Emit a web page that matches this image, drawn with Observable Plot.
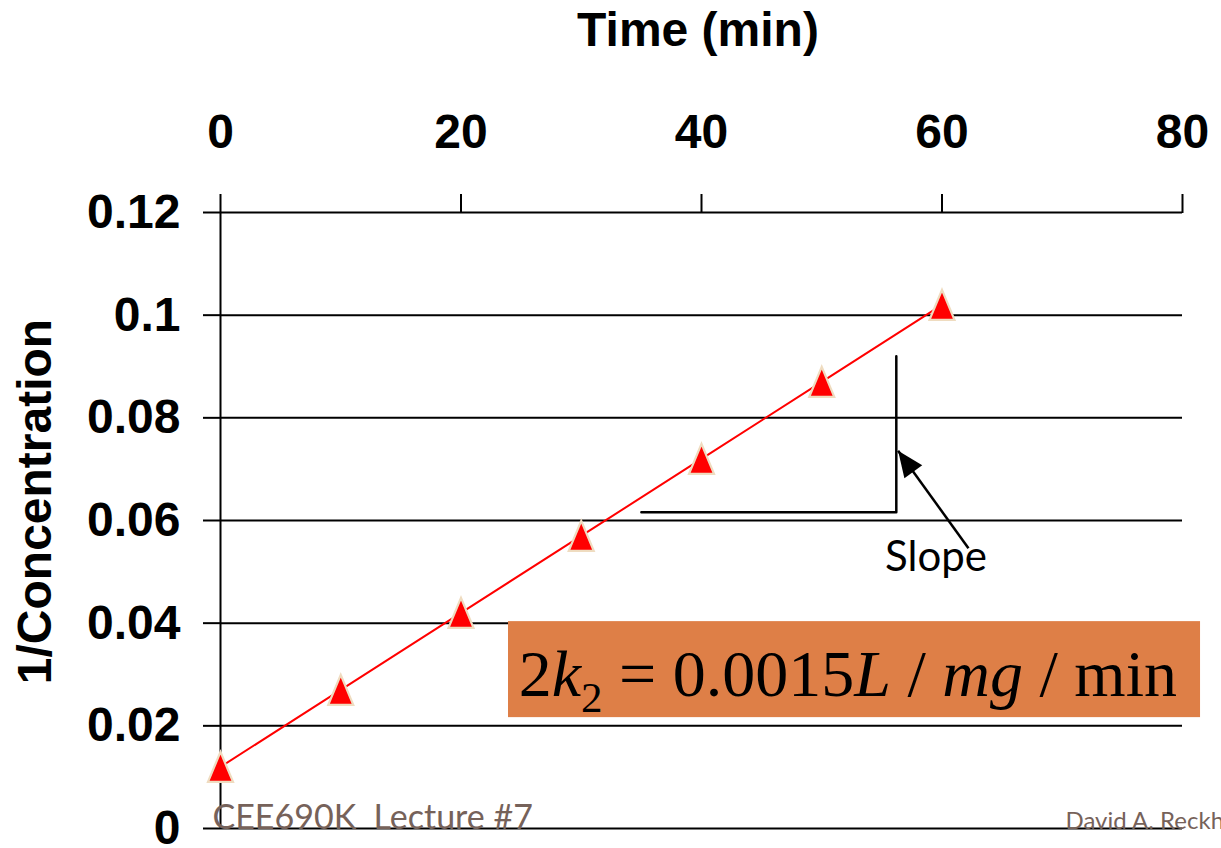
<!DOCTYPE html>
<html><head><meta charset="utf-8">
<script src="https://cdn.jsdelivr.net/npm/d3@7"></script>
<script src="https://cdn.jsdelivr.net/npm/@observablehq/plot@0.6"></script>
<style>
html,body{margin:0;padding:0;background:#fff;overflow:hidden;}
</style></head><body><div id="chart"></div>
<script>
// ---- data ----
const times = [0, 10, 20, 30, 40, 50, 60];
const invConc = [0.012, 0.027, 0.042, 0.057, 0.072, 0.087, 0.102];
const xTicks = [0, 20, 40, 60, 80];
const yTicks = [0, 0.02, 0.04, 0.06, 0.08, 0.1, 0.12];
const xTitle = "Time (min)";
const yTitle = "1/Concentration";
// slope annotation (data units)
const slopeLegX = [35, 56.2, 56.2];
const slopeLegY = [0.0616, 0.0616, 0.092];
const arrowFrom = [62.2, 0.0546];
const arrowTo = [56.35, 0.0736];
const slopeLabel = "Slope";
const slopeLabelAt = [59.5, 0.0528];
// equation box
const eqParts = [
  {t: "2"}, {t: "k", i: true}, {t: "2", sub: true}, {t: " = 0.0015"},
  {t: "L", i: true}, {t: " / "}, {t: "mg", i: true}, {t: " / min"}
];
const eqBoxX = [23.95, 81.5];
const eqBoxY = [0.0216, 0.0403];
const eqAt = [24.8, 0.0259];
const footerLeft = "CEE690K\u00a0\u00a0Lecture #7";
const footerRight = "David A. Reckhow";

// ---- layout ----
const W = 1221, H = 848;
const mL = 220, mR = 39, mT = 212, mB = 20;
const kx = (W - mL - mR) / 80, ky = (H - mT - mB) / 0.12;
const arrowAngle = Math.atan2((arrowTo[0] - arrowFrom[0]) * kx, (arrowTo[1] - arrowFrom[1]) * ky) * 180 / Math.PI;

const pts = times.map((t, i) => ({t, v: invConc[i]}));
const slopeLeg = slopeLegX.map((x, i) => ({x, y: slopeLegY[i]}));

const triangleMarker = {draw(ctx) { ctx.moveTo(0, -15); ctx.lineTo(12.5, 15); ctx.lineTo(-12.5, 15); ctx.closePath(); }};
const arrowHead = {draw(ctx) { ctx.moveTo(0, 0); ctx.lineTo(11, 26); ctx.lineTo(-11, 26); ctx.closePath(); }};

const eqString = eqParts.map(p => p.t).join("");
const sans = "'Liberation Sans', Arial, sans-serif";
const geo = "Lato, 'Open Sans', sans-serif";

const chart = Plot.plot({
  width: W, height: H,
  marginLeft: mL, marginRight: mR, marginTop: mT, marginBottom: mB,
  style: {fontFamily: sans, background: "#fff", color: "#000", overflow: "hidden"},
  x: {domain: [0, 80]},
  y: {domain: [0, 0.12]},
  marks: [
    Plot.ruleY(yTicks, {stroke: "#000", strokeWidth: 2}),
    Plot.ruleX([0], {stroke: "#000", strokeWidth: 2}),
    Plot.axisX({anchor: "top", ticks: xTicks, tickSize: 19, tickPadding: 46, fontSize: 48, fontWeight: "bold",
      strokeWidth: 2, label: null, tickFormat: d => String(d)}),
    Plot.axisY({anchor: "left", ticks: yTicks, tickSize: 17, tickPadding: 23, fontSize: 48, fontWeight: "bold",
      strokeWidth: 2, label: null, tickFormat: d => String(d)}),
    Plot.text([xTitle], {text: d => d, frameAnchor: "top", dx: -3.5, dy: -182, fontSize: 48, fontWeight: "bold", lineAnchor: "middle"}),
    Plot.text([yTitle], {text: d => d, frameAnchor: "left", rotate: -90, textAnchor: "middle", dx: -185, dy: -19, fontSize: 48, fontWeight: "bold", lineAnchor: "middle"}),
    Plot.rect([0], {x1: () => eqBoxX[0], x2: () => eqBoxX[1], y1: () => eqBoxY[0], y2: () => eqBoxY[1], fill: "#de7f47"}),
    Plot.text([eqString], {text: d => d, x: () => eqAt[0], y: () => eqAt[1], textAnchor: "start", lineAnchor: "bottom",
      fontFamily: "'Liberation Serif', 'Times New Roman', serif", fontSize: 66, fill: "#000"}),
    Plot.line(slopeLeg, {x: "x", y: "y", stroke: "#000", strokeWidth: 2.5, curve: "linear"}),
    Plot.link([0], {x1: () => arrowFrom[0], y1: () => arrowFrom[1], x2: () => arrowTo[0], y2: () => arrowTo[1], stroke: "#000", strokeWidth: 2.5}),
    Plot.dot([0], {x: () => arrowTo[0], y: () => arrowTo[1], symbol: arrowHead, rotate: arrowAngle, fill: "#000", stroke: "none"}),
    Plot.text([slopeLabel], {text: d => d, x: () => slopeLabelAt[0], y: () => slopeLabelAt[1], fontFamily: geo, fontSize: 42, fill: "#000", lineAnchor: "middle"}),
    Plot.line(pts, {x: "t", y: "v", stroke: "#ff0000", strokeWidth: 2}),
    Plot.dot(pts, {x: "t", y: "v", symbol: triangleMarker, fill: "#ff0000", stroke: "#efdcc0", strokeWidth: 2.2}),
    Plot.text([footerLeft], {text: d => d, frameAnchor: "bottom-left", dx: -8, textAnchor: "start", lineAnchor: "bottom",
      fontFamily: geo, fontSize: 34, fill: "#76625a"}),
    Plot.text([footerRight], {text: d => d, frameAnchor: "bottom-right", dx: -117, textAnchor: "start", lineAnchor: "bottom",
      fontFamily: geo, fontSize: 24, fill: "#76625a"})
  ]
});

// rich formatting for the equation (italics + subscript)
const eqText = Array.from(chart.querySelectorAll("text")).find(t => t.textContent === eqString);
if (eqText) {
  eqText.textContent = "";
  const ns = "http://www.w3.org/2000/svg";
  let shifted = 0;
  eqParts.forEach(p => {
    const ts = document.createElementNS(ns, "tspan");
    ts.textContent = p.t;
    if (p.i) ts.setAttribute("font-style", "italic");
    if (p.sub) {
      ts.setAttribute("font-size", "43");
      ts.setAttribute("dy", "16");
      shifted = 16;
    } else if (shifted) {
      ts.setAttribute("dy", String(-shifted));
      shifted = 0;
    }
    ts.style.whiteSpace = "pre";
    eqText.appendChild(ts);
  });
  eqText.style.whiteSpace = "pre";
}
document.getElementById("chart").appendChild(chart);
</script></body></html>
